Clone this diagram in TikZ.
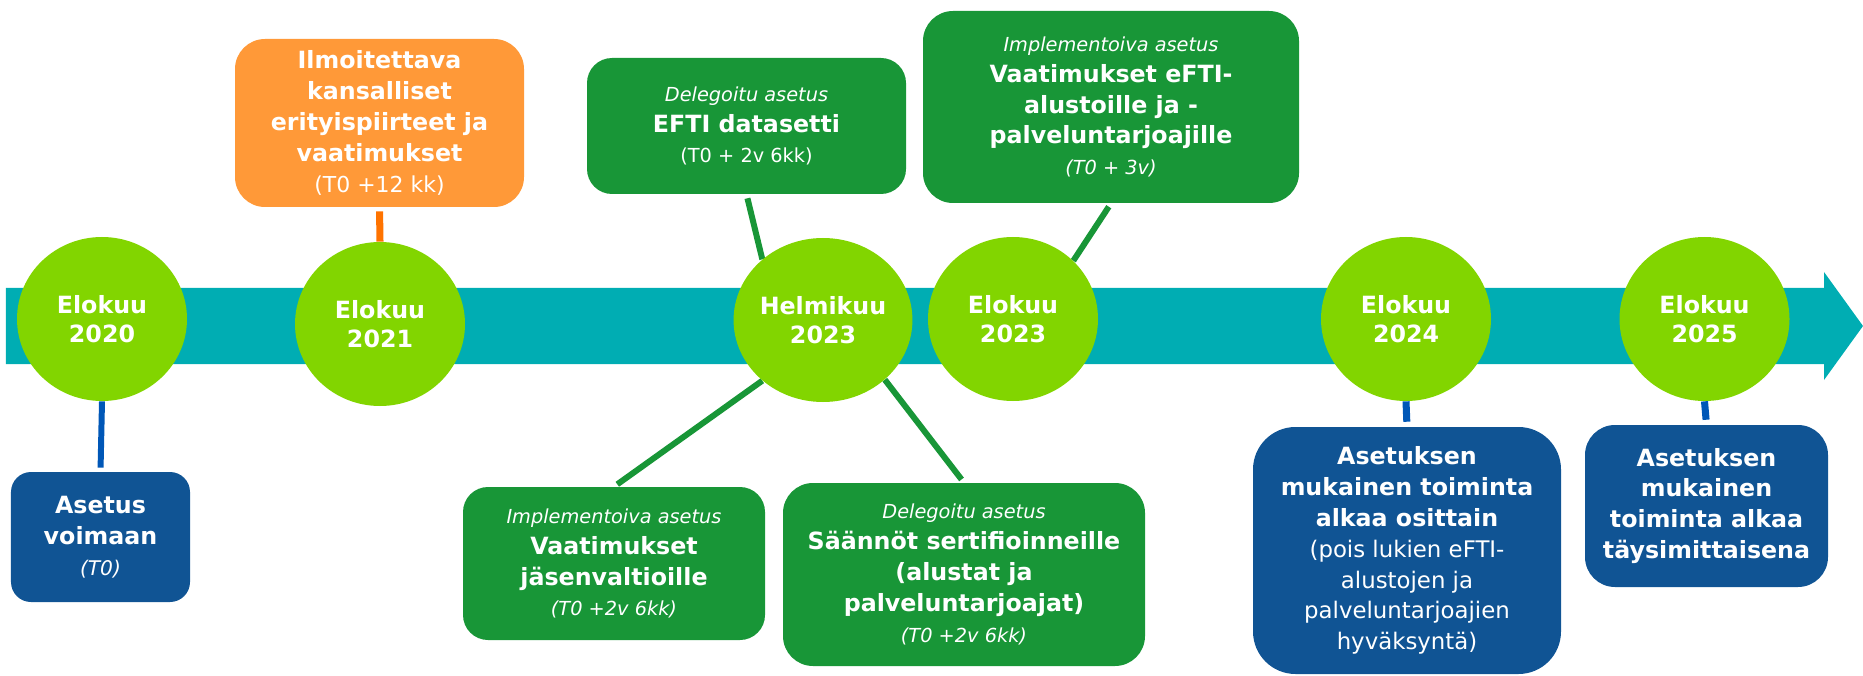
\documentclass[tikz,border=0pt]{standalone}
\usepackage{fontspec}
\setmainfont{DejaVu Sans}
\usetikzlibrary{shapes.geometric,backgrounds}
\definecolor{bandteal}{RGB}{0,173,179}
\definecolor{monthgreen}{RGB}{130,213,0}
\definecolor{boxgreen}{RGB}{24,150,55}
\definecolor{boxorange}{RGB}{255,153,56}
\definecolor{boxblue}{RGB}{16,84,148}
\definecolor{linkblue}{RGB}{0,87,183}
\definecolor{linkorange}{RGB}{255,115,0}
\newcommand{\kind}[2][11]{{\fontsize{#1}{17.6}\selectfont\mdseries\itshape #2}}
\newcommand{\due}[2][11]{{\fontsize{#1}{17.6}\selectfont\mdseries #2}}
\tikzset{
	month/.style={ellipse, fill=monthgreen, text=white, minimum width=3.4cm, minimum height=3.28cm, inner sep=0pt, align=center, font=\fontsize{13.5}{16.5}\selectfont\bfseries},
	note/.style={rounded corners=0.5cm, text=white, inner sep=0pt, align=center, font=\fontsize{13.5}{17.6}\selectfont\bfseries},
	link/.style={line width=3.4pt}
}

\begin{document}
\begin{tikzpicture}
			%%%%% START %%%%%
			\useasboundingbox (0, 0) rectangle (37.26, 13.5);
			
			\node[month] (c2020) at (2.04, 7.12) {Elokuu\\2020};
			\node[month] (c2021) at (7.6, 7.02) {Elokuu\\2021};
			\node[month] (c2023h) at (16.46, 7.1) {Helmikuu\\2023};
			\node[month] (c2023e) at (20.26, 7.12) {Elokuu\\2023};
			\node[month] (c2024) at (28.12, 7.12) {Elokuu\\2024};
			\node[month] (c2025) at (34.09, 7.12) {Elokuu\\2025};
			
			\node[note, fill=boxorange, minimum width=5.78cm, minimum height=3.36cm, rounded corners=0.6cm] (ilmoitus) at (7.59, 11.04)
				{Ilmoitettava\\kansalliset\\erityispiirteet ja\\vaatimukset\\\due[12.5]{(T0 +12 kk)}};
			\node[note, fill=boxblue, minimum width=3.58cm, minimum height=2.6cm, rounded corners=0.4cm] (voimaan) at (2.01, 2.76)
				{Asetus\\voimaan\\\kind[11.5]{(T0)}};
			\node[note, fill=boxgreen, minimum width=6.38cm, minimum height=2.72cm] (datasetti) at (14.93, 10.98)
				{\kind{Delegoitu asetus}\\EFTI datasetti\\\due{(T0 + 2v 6kk)}};
			\node[note, fill=boxgreen, minimum width=7.52cm, minimum height=3.84cm, rounded corners=0.6cm] (alustat) at (22.22, 11.36)
				{\kind{Implementoiva asetus}\\Vaatimukset eFTI-\\alustoille ja -\\palveluntarjoajille\\\kind{(T0 + 3v)}};
			\node[note, fill=boxgreen, minimum width=6.04cm, minimum height=3.06cm] (jasen) at (12.28, 2.23)
				{\kind{Implementoiva asetus}\\Vaatimukset\\jäsenvaltioille\\\kind{(T0 +2v 6kk)}};
			\node[note, fill=boxgreen, minimum width=7.24cm, minimum height=3.66cm, rounded corners=0.6cm] (saannot) at (19.28, 2.01)
				{\kind{Delegoitu asetus}\\Säännöt sertifioinneille\\(alustat ja\\palveluntarjoajat)\\\kind{(T0 +2v 6kk)}};
			\node[note, fill=boxblue, minimum width=6.16cm, minimum height=4.94cm, rounded corners=0.85cm] (osittain) at (28.14, 2.49)
				{Asetuksen\\mukainen toiminta\\alkaa osittain\\\due[13]{(pois lukien eFTI-}\\\due[13]{alustojen ja}\\\due[13]{palveluntarjoajien}\\\due[13]{hyväksyntä)}};
			\node[note, fill=boxblue, minimum width=4.86cm, minimum height=3.24cm, rounded corners=0.6cm] (taysi) at (34.13, 3.38)
				{Asetuksen\\mukainen\\toiminta alkaa\\täysimittaisena};
			
			\begin{scope}[on background layer]
			\fill[bandteal] (0.12, 6.22) -- (36.48, 6.22) -- (36.48, 5.9) -- (37.26, 6.98) -- (36.48, 8.06) -- (36.48, 7.74) -- (0.12, 7.74) -- cycle;
			
			\draw[link, draw=linkblue, shorten >=2.3pt] (c2020.south) -- (voimaan.north);
			\draw[link, draw=linkorange, line width=4pt, shorten <=2.3pt] (ilmoitus.south) -- (c2021.north);
			\draw[link, draw=boxgreen, shorten <=2.3pt] (datasetti.south) -- (c2023h.135);
			\draw[link, draw=boxgreen, shorten <=2.3pt] (alustat.south) -- (c2023e.44);
			\draw[link, draw=boxgreen, shorten >=2.3pt] (c2023h.225) -- (jasen.north);
			\draw[link, draw=boxgreen, shorten >=2.3pt] (c2023h.316) -- (saannot.north);
			\draw[link, draw=linkblue, line width=4pt, shorten >=2.8pt] (c2024.south) -- (osittain.north);
			\draw[link, draw=linkblue, line width=4pt, shorten >=2.8pt] (c2025.south) -- (taysi.north);
			\end{scope}
			
			%%%%% END %%%%%
\end{tikzpicture}
\end{document}
